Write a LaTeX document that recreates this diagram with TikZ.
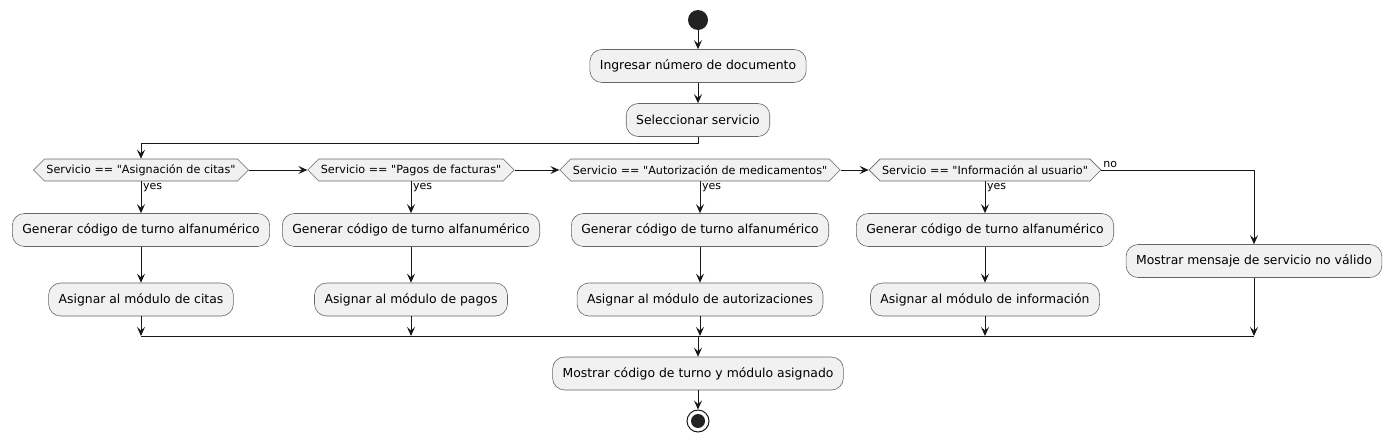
\documentclass[tikz,border=0pt]{standalone}
\usepackage{fontspec}
\setmainfont{DejaVu Sans}[Ligatures=TeXOff]
\usetikzlibrary{arrows.meta,shapes.symbols}
\definecolor{boxfill}{HTML}{F1F1F1}
\definecolor{linec}{HTML}{181818}
\definecolor{dotc}{HTML}{222222}
\begin{document}
\begin{tikzpicture}[x=1pt,y=-1pt,
  act/.style={draw=black!60, fill=boxfill, rounded corners=12pt, minimum height=33pt, inner xsep=10pt, inner ysep=0pt, font=\fontsize{12.4}{14}\selectfont, line width=0.6pt},
  cond/.style={signal, signal to=east and west, signal pointer angle=90, draw=black!60, fill=boxfill, minimum height=22pt, inner xsep=2pt, inner ysep=0pt, font=\fontsize{11.2}{13}\selectfont, line width=0.6pt},
  flow/.style={draw=linec, line width=1pt, -{Stealth[length=9pt,width=8pt,inset=3.5pt]}},
  plain/.style={draw=linec, line width=1pt},
  lbl/.style={font=\fontsize{11}{13}\selectfont, inner sep=1.5pt}
]
\useasboundingbox (0,0) rectangle (1392,442);
\node[circle, fill=dotc, minimum size=20pt, inner sep=0pt] (start) at (698,20) {};
\node[act] (ing) at (698,66) {Ingresar número de documento};
\node[act] (sel) at (698,120) {Seleccionar servicio};

\node[cond] (d1) at (141,170) {Servicio == "Asignación de citas"};
\node[cond] (d2) at (411,170) {Servicio == "Pagos de facturas"};
\node[cond] (d3) at (700,170) {Servicio == "Autorización de medicamentos"};
\node[cond] (d4) at (985,170) {Servicio == "Información al usuario"};

\node[act] (g1) at (141,230) {Generar código de turno alfanumérico};
\node[act] (g2) at (411,230) {Generar código de turno alfanumérico};
\node[act] (g3) at (700,230) {Generar código de turno alfanumérico};
\node[act] (g4) at (985,230) {Generar código de turno alfanumérico};

\node[act] (a1) at (141,299.5) {Asignar al módulo de citas};
\node[act] (a2) at (411,299.5) {Asignar al módulo de pagos};
\node[act] (a3) at (700,299.5) {Asignar al módulo de autorizaciones};
\node[act] (a4) at (985,299.5) {Asignar al módulo de información};

\node[act] (msg) at (1254,261) {Mostrar mensaje de servicio no válido};

\coordinate (m1) at (141,336);
\coordinate (m2) at (411,336);
\coordinate (m3) at (700,336);
\coordinate (m4) at (985,336);
\coordinate (m5) at (1254,336);
\coordinate (mc) at (698,336);

\node[act] (fin) at (698,373.5) {Mostrar código de turno y módulo asignado};
\node[circle, draw=linec, line width=1pt, minimum size=22pt, inner sep=0pt] (end) at (698,421) {};
\fill[dotc] (end) circle (7pt);

\draw[flow] (start) -- (ing);
\draw[flow] (ing) -- (sel);
\draw[flow] (sel.south) -- ++(0,7) -| (d1.north);

\draw[flow] (d1.east) -- (d2.west);
\draw[flow] (d2.east) -- (d3.west);
\draw[flow] (d3.east) -- (d4.west);
\draw[flow] (d4.east) node[lbl, anchor=south west]{no} -| (msg.north);

\draw[flow] (d1.south) -- node[lbl, anchor=north west, pos=0]{yes} (g1);
\draw[flow] (d2.south) -- node[lbl, anchor=north west, pos=0]{yes} (g2);
\draw[flow] (d3.south) -- node[lbl, anchor=north west, pos=0]{yes} (g3);
\draw[flow] (d4.south) -- node[lbl, anchor=north west, pos=0]{yes} (g4);

\draw[flow] (g1) -- (a1);
\draw[flow] (g2) -- (a2);
\draw[flow] (g3) -- (a3);
\draw[flow] (g4) -- (a4);

\draw[flow] (a1) -- (m1);
\draw[flow] (a2) -- (m2);
\draw[flow] (a3) -- (m3);
\draw[flow] (a4) -- (m4);
\draw[flow] (msg) -- (m5);
\draw[plain] (m1) -- (m5);
\draw[flow] (mc) -- (fin);
\draw[flow] (fin) -- (end);
\end{tikzpicture}
\end{document}
